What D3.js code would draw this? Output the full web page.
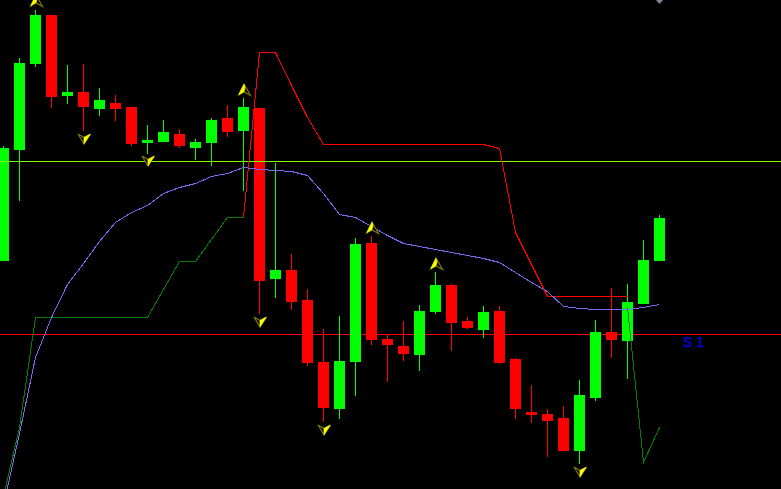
<!DOCTYPE html>
<html>
<head>
<meta charset="utf-8">
<script src="https://cdn.jsdelivr.net/npm/d3@7/dist/d3.min.js"></script>
<style>
html,body{margin:0;padding:0;background:#000;overflow:hidden}
svg{display:block}
</style>
</head>
<body>
<svg id="chart" width="781" height="489"></svg>
<script>
const opens  = [228,339,425,474,393,397,380,386,382,346,347,355,341,346,371,358,381,210,219,189,127,80,127,246,150,143,134,177,204,168,159,178,130,77,75,71,38,91,157,148,185,228];
const highs  = [343,431,479,474,424,425,401,394,382,364,369,360,350,371,384,391,381,326,235,200,160,173,251,253,154,168,184,217,205,172,183,183,131,104,80,83,109,169,201,205,249,274];
const lows   = [228,288,422,381,385,358,373,368,343,335,347,341,329,323,352,298,175,191,179,123,67,70,93,144,107,128,118,175,138,160,151,125,70,66,32,38,25,88,131,110,185,228];
const closes = [341,426,474,392,397,382,389,380,345,349,357,343,347,369,357,382,208,219,187,126,81,128,245,149,144,135,178,204,166,161,177,126,80,74,68,38,94,157,149,187,229,271];

const middleBand = [-16,56,132,172,205,226,248,267,277,284,296,302,306,313,316,322,320,319,318,314,296,275,272,263,254,246,243,240,237,234,231,227,217,207,198,183,181,180,180,180,182,185];
const upperBand = [null,null,null,null,null,null,null,null,null,null,null,null,null,null,null,272,437,437,404,372,345,345,345,345,345,345,345,345,345,345,345,341,257,225,193,193,193,193,193,193,null,null];
const lowerBand = [-7,62,172,172,172,172,172,172,172,172,200,228,228,250,272,272,null,null,null,null,null,null,null,null,null,null,null,null,null,null,null,null,null,null,null,null,null,null,null,182,27,62];

const upFractalBars = [2,15,23,27];
const upFractalLevels = [494,405,267,231];
const downFractalBars = [5,9,16,20,36];
const downFractalLevels = [345,323,162,54,12];

const pivotLevel = 328;
const supportLevel = 155;
const supportLabel = "S 1";
const marketBar = 41;
const marketLevel = 489;

const svg = d3.select("#chart");
const W = 781, H = 489;
svg.append("rect").attr("width",W).attr("height",H).attr("fill","#000");

const x = d3.scaleLinear().domain([0,41]).range([3.5,659.5]);
const y = d3.scaleLinear().domain([0,489]).range([489,0]);

const bars = d3.range(opens.length);
const GREEN = "#00ff00", RED = "#ff0000";
const colour = i => closes[i] > opens[i] ? GREEN : RED;

// support line sits behind the candles
svg.append("line").attr("x1",0).attr("x2",W)
  .attr("y1",y(supportLevel)+0.5).attr("y2",y(supportLevel)+0.5)
  .attr("stroke",RED).attr("shape-rendering","crispEdges");

const candles = svg.append("g").attr("shape-rendering","crispEdges");
candles.selectAll("line").data(bars).join("line")
  .attr("x1",x).attr("x2",x)
  .attr("y1",i=>y(highs[i])).attr("y2",i=>y(lows[i]))
  .attr("stroke",colour);
candles.selectAll("rect").data(bars).join("rect")
  .attr("x",i=>x(i)-5.5).attr("width",11)
  .attr("y",i=>y(Math.max(opens[i],closes[i])))
  .attr("height",i=>Math.abs(closes[i]-opens[i]))
  .attr("fill",colour);

// pivot line sits in front of the candles
svg.append("line").attr("x1",0).attr("x2",W)
  .attr("y1",y(pivotLevel)+0.5).attr("y2",y(pivotLevel)+0.5)
  .attr("stroke","#7fff00").attr("shape-rendering","crispEdges");

const lineGen = d3.line().defined(d=>d!==null).x((d,i)=>x(i)).y(d=>y(d)+0.5);
[[lowerBand,"#008000"],[upperBand,RED],[middleBand,"#7b68ee"]].forEach(([s,c])=>{
  svg.append("path").attr("d",lineGen(s)).attr("fill","none")
    .attr("stroke",c).attr("stroke-width",1).attr("shape-rendering","crispEdges");
});

// fractal arrows
const upArrow = {outline:"M0,0L-5.5,11L0,8L6.5,11.5Z", fill:"M0,0.5L-5,10.5L0,7.5L1,4Z"};
const downArrow = {outline:"M0,0L-6,-10L0,-6.5L6.5,-10Z", fill:"M0,-0.5L0,-6.5L6,-9.5Z"};
function arrows(idx,levels,shape){
  const g = svg.append("g").selectAll("g").data(idx).join("g")
    .attr("transform",(d,k)=>`translate(${x(d)+0.5},${y(levels[k])})`);
  g.append("path").attr("d",shape.outline).attr("fill","#000").attr("stroke","#7a7a00").attr("stroke-width",1.2);
  g.append("path").attr("d",shape.fill).attr("fill","#ffff00").attr("stroke","#ffff00").attr("stroke-width",0.8);
}
arrows(upFractalBars,upFractalLevels,upArrow);
arrows(downFractalBars,downFractalLevels,downArrow);

// market marker clipped by the top edge
svg.append("path")
  .attr("transform",`translate(${x(marketBar)},${y(marketLevel)})`)
  .attr("d","M-4.5,-1L4.5,-1L0,4Z").attr("fill","#778899");

svg.append("text").attr("x",x(marketBar)+23.5).attr("y",y(supportLevel)+13)
  .attr("font-family","'Liberation Sans',Arial,sans-serif").attr("font-size",14)
  .attr("fill","#0000e0").attr("stroke","#0000e0").attr("stroke-width",0.3).text(supportLabel);
</script>
</body>
</html>
